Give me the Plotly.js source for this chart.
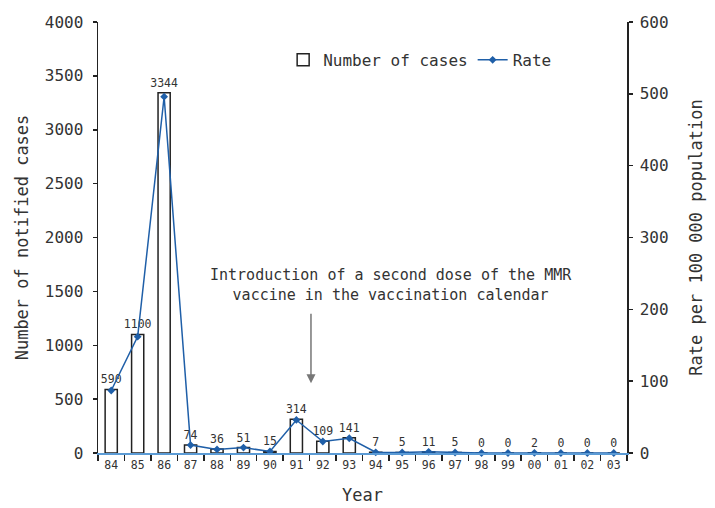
<!DOCTYPE html>
<html>
<head>
<meta charset="utf-8">
<script src="https://cdn.plot.ly/plotly-3.0.1.min.js"></script>
<style>html,body{margin:0;padding:0;background:#fff}#chart{width:715px;height:508px}</style>
</head>
<body>
<div id="chart"></div>
<script>
const years = ["84","85","86","87","88","89","90","91","92","93","94","95","96","97","98","99","00","01","02","03"];
const cases = [590,1100,3344,74,36,51,15,314,109,141,7,5,11,5,0,0,2,0,0,0];
const rate = [87,162,496,11,5,7.5,2.2,46,16,20.5,1,0.7,1.6,0.7,0,0,0.3,0,0,0];

const FONT = '"DejaVu Sans Mono", "Liberation Mono", monospace';
const TXT = '#333333';

const traces = [
  {
    type: 'bar', x: years, y: cases, name: 'Number of cases',
    width: 0.46,
    marker: {color: '#ffffff', line: {color: '#222222', width: 1.5}},
    text: cases.map(String), textposition: 'outside', cliponaxis: false,
    constraintext: 'none',
    textfont: {family: FONT, size: 11.5, color: TXT},
    hoverinfo: 'x+y'
  },
  {
    type: 'scatter', mode: 'lines+markers', x: years, y: rate, name: 'Rate',
    yaxis: 'y2',
    line: {color: '#1f5fa8', width: 1.5},
    marker: {symbol: 'diamond', size: 6, color: '#1f5fa8'},
    cliponaxis: false
  }
];

const layout = {
  width: 715, height: 508,
  margin: {l: 98, r: 88, t: 22, b: 55},
  paper_bgcolor: '#ffffff', plot_bgcolor: '#ffffff',
  font: {family: FONT, color: TXT},
  showlegend: true,
  legend: {orientation: 'h', x: 0.35, y: 0.912, xanchor: 'left', yanchor: 'middle',
           font: {family: FONT, size: 16, color: TXT}, bgcolor: 'rgba(0,0,0,0)'},
  bargap: 0.5,
  xaxis: {
    type: 'category', range: [-0.5, 19.5],
    showline: true, linecolor: '#5b9bd5', linewidth: 2,
    ticks: 'outside', tickson: 'boundaries', ticklen: 6, tickcolor: '#222', tickwidth: 1.5,
    tickfont: {family: FONT, size: 11.5, color: TXT},
    showgrid: false, zeroline: false,
    title: {text: 'Year', font: {family: FONT, size: 17, color: TXT}, standoff: 18}
  },
  yaxis: {
    range: [0, 4000], dtick: 500,
    showline: true, linecolor: '#222', linewidth: 1.5,
    ticks: 'outside', ticklen: 4, tickcolor: '#222', tickwidth: 1.5,
    tickfont: {family: FONT, size: 16, color: TXT},
    ticklabelstandoff: 6,
    showgrid: false, zeroline: false,
    title: {text: 'Number of notified cases', font: {family: FONT, size: 17, color: TXT}, standoff: 12}
  },
  yaxis2: {
    overlaying: 'y', side: 'right', range: [0, 600], dtick: 100,
    showline: true, linecolor: '#222', linewidth: 1.5,
    ticks: 'outside', ticklen: 4, tickcolor: '#222', tickwidth: 1.5,
    tickfont: {family: FONT, size: 16, color: TXT},
    ticklabelstandoff: 4,
    showgrid: false, zeroline: false,
    title: {text: 'Rate per 100 000 population', font: {family: FONT, size: 17, color: TXT}, standoff: 22}
  },
  annotations: [
    {
      xref: 'paper', yref: 'paper', x: 0.554, y: 0.39, xanchor: 'center', yanchor: 'middle',
      text: 'Introduction of a second dose of the MMR<br>vaccine in the vaccination calendar',
      showarrow: false, align: 'center',
      font: {family: FONT, size: 15, color: TXT}
    },
    {
      xref: 'paper', yref: 'paper', x: 0.4026, y: 0.162, text: '',
      showarrow: true, arrowhead: 2, arrowsize: 1.2, arrowwidth: 1.5, arrowcolor: '#777777',
      ax: 0, ay: -71
    }
  ]
};

Plotly.newPlot('chart', traces, layout, {displayModeBar: false, staticPlot: true});
</script>
</body>
</html>
